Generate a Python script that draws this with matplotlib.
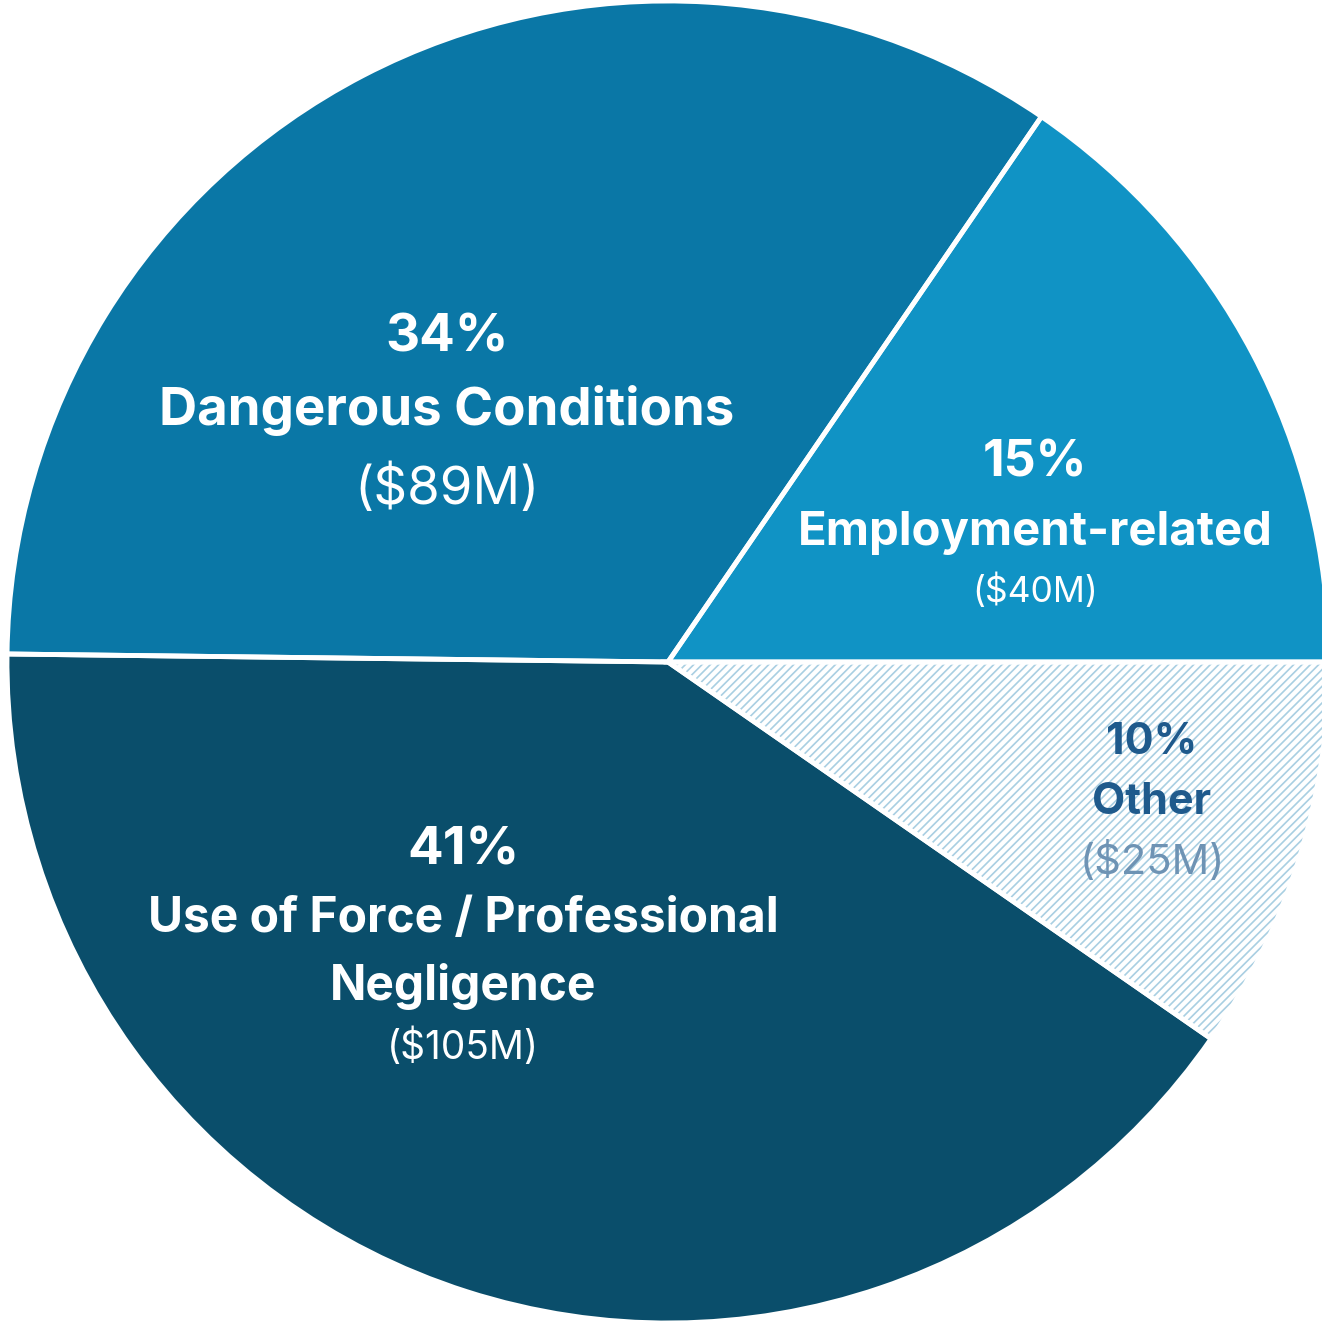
import numpy as np
import matplotlib.pyplot as plt

# settlement payouts by claim type, $M
categories = ["Employment-related", "Dangerous Conditions",
              "Use of Force / Professional\nNegligence", "Other"]
amounts = [40, 89, 105, 25]

colors = ["#1093c5", "#0a77a6", "#0a4e6b", "white"]

plt.rcParams["hatch.linewidth"] = 1.2

W, H = 1322, 1324
fig = plt.figure(figsize=(W / 100, H / 100), dpi=100)
ax = fig.add_axes([0, 0, 1, 1])

cx, cy, r = 668, 662, 661

# filled wedges; hatch for the "Other" slice
# y axis gets inverted, so clockwise in data = counterclockwise on screen
wedges, _ = ax.pie(amounts, colors=colors, startangle=0, counterclock=False,
                   center=(cx, cy), radius=r, frame=True,
                   wedgeprops=dict(linewidth=0))
wedges[3].set_hatch("////")
wedges[3].set_edgecolor("#a9cfe2")

# white separators on top
ax.pie(amounts, colors=["none"] * 4, startangle=0, counterclock=False,
       center=(cx, cy), radius=r, frame=True,
       wedgeprops=dict(linewidth=3.5, edgecolor="white", fill=False))
ax.set_xlim(0, W)
ax.set_ylim(H, 0)
ax.set_aspect("equal")
ax.axis("off")

total = sum(amounts)
pcts = [f"{round(a / total * 100)}%" for a in amounts]
money = [f"(${a}M)" for a in amounts]

fam = ["Inter", "DejaVu Sans"]

# label anchor (x, y of the percent line) and line spacing, per slice
label_pos = [(1035, 463), (447, 338), (463, 851), (1152, 743)]
name_gap = [70, 72, 68, 60]
name_size = [34, 38, 34.5, 31]
pct_size = [36, 38, 38, 31]
money_size = [25.5, 38, 28, 30]
money_gap = [58, 80, 61, 59]
main_col = ["white", "white", "white", "#1f5a8c"]
money_col = ["white", "white", "white", "#6e93b4"]

for i in range(4):
    x, y = label_pos[i]
    ax.text(x, y, pcts[i], ha="center", va="center", fontsize=pct_size[i],
            fontweight="bold", color=main_col[i], family=fam)
    lines = categories[i].split("\n")
    yy = y
    for ln in lines:
        yy += name_gap[i]
        ax.text(x, yy, ln, ha="center", va="center", fontsize=name_size[i],
                fontweight="bold", color=main_col[i], family=fam)
    yy += money_gap[i]
    ax.text(x, yy, money[i], ha="center", va="center", fontsize=money_size[i],
            color=money_col[i], family=fam)

fig.savefig("out.png", dpi=100, facecolor="white")
